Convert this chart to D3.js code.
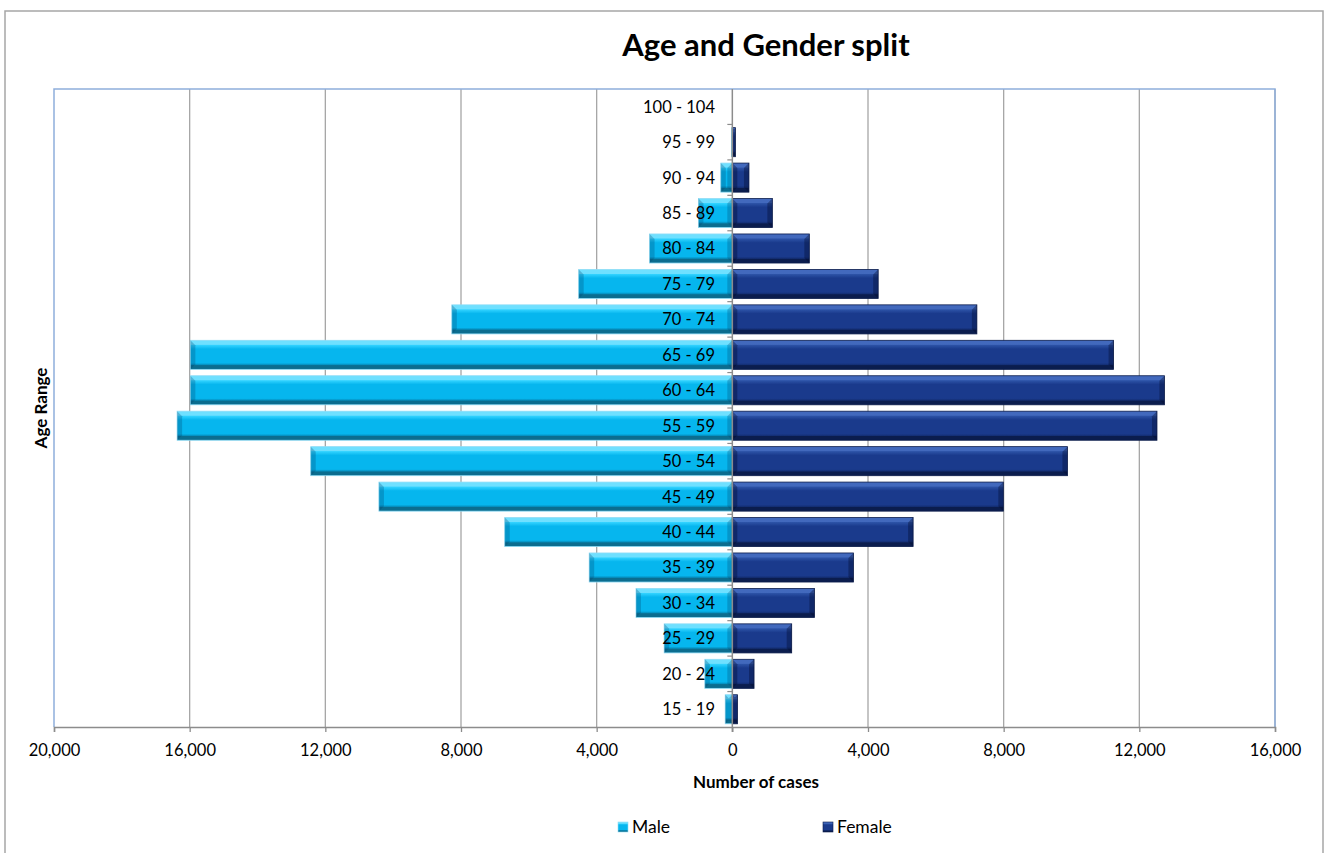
<!DOCTYPE html>
<html>
<head>
<meta charset="utf-8">
<title>Age and Gender split</title>
<script src="https://cdn.jsdelivr.net/npm/d3@7"></script>
<style>
  html, body { margin: 0; padding: 0; background: #ffffff; }
  svg { display: block; font-family: Lato, "Liberation Sans", sans-serif; }
</style>
</head>
<body>
<svg id="chart" width="1324" height="853"></svg>
<script>
// Age bands, bottom to top
const ageGroups = ["15 - 19", "20 - 24", "25 - 29", "30 - 34", "35 - 39", "40 - 44",
  "45 - 49", "50 - 54", "55 - 59", "60 - 64", "65 - 69", "70 - 74", "75 - 79",
  "80 - 84", "85 - 89", "90 - 94", "95 - 99", "100 - 104"];

// Number of cases per age band
const maleCases = [210, 810, 2010, 2840, 4220, 6710, 10420, 12430, 16370, 15980,
  15980, 8270, 4530, 2440, 1000, 340, 20, 0];
const femaleCases = [150, 640, 1750, 2420, 3570, 5330, 7990, 9880, 12520, 12740,
  11240, 7210, 4300, 2270, 1180, 490, 90, 0];

const xTicks = [-20000, -16000, -12000, -8000, -4000, 0, 4000, 8000, 12000, 16000];
const seriesNames = ["Male", "Female"];

const svg = d3.select("#chart");
const plot = { left: 54, right: 1275, top: 89, bottom: 727 };

const x = d3.scaleLinear().domain([-20000, 16000]).range([plot.left, plot.right]);
const y = d3.scaleBand()
  .domain(ageGroups.slice().reverse())
  .range([plot.top, plot.bottom])
  .paddingInner(0.18)
  .paddingOuter(0.09);

// Colour sets for the bevelled bars
const palette = {
  Male:   { top: "#6fe0ff", hi: "#30d2ff", body: "#06b6ee", low: "#0590c0", bottom: "#0b6d8f", end: "rgba(0,70,110,0.28)", stroke: "#8fdcf6" },
  Female: { top: "#4269bd", hi: "#2c52a6", body: "#1a3a8c", low: "#142f75", bottom: "#0b1d4e", end: "rgba(0,10,40,0.35)", stroke: "#0c1d4c" }
};

const defs = svg.append("defs");
seriesNames.forEach(name => {
  const c = palette[name];
  const g = defs.append("linearGradient")
    .attr("id", "grad-" + name)
    .attr("x1", 0).attr("y1", 0).attr("x2", 0).attr("y2", 1);
  [[0, c.top], [0.14, c.top], [0.17, c.hi], [0.3, c.body], [0.78, c.body],
   [0.84, c.low], [0.87, c.bottom], [1, c.bottom]].forEach(([o, col]) => {
    g.append("stop").attr("offset", o).attr("stop-color", col);
  });
});

// Outer chart frame
svg.append("rect")
  .attr("x", 5).attr("y", 11).attr("width", 1318).attr("height", 860)
  .attr("fill", "none").attr("stroke", "#a6a6a6").attr("stroke-width", 1.5);

// Title
svg.append("text")
  .attr("x", 766).attr("y", 56)
  .attr("text-anchor", "middle")
  .attr("font-size", 31).attr("font-weight", "bold").attr("fill", "#000")
  .text("Age and Gender split");

// Vertical gridlines
svg.append("g")
  .selectAll("line")
  .data(xTicks.filter(t => t !== -20000 && t !== 0))
  .join("line")
  .attr("x1", d => x(d)).attr("x2", d => x(d))
  .attr("y1", plot.top).attr("y2", plot.bottom)
  .attr("stroke", "#a6a6a6").attr("stroke-width", 1.3);

// Plot area border (left, top, right)
svg.append("path")
  .attr("d", `M${plot.left},${plot.bottom}V${plot.top}H${plot.right}V${plot.bottom}`)
  .attr("fill", "none").attr("stroke", "#8eaedb").attr("stroke-width", 1.5);

// Bevelled bar drawing
function bevelBar(g, x0, x1, yTop, h, name) {
  const c = palette[name];
  const w = x1 - x0;
  if (w <= 0) return;
  g.append("rect")
    .attr("x", x0).attr("y", yTop).attr("width", w).attr("height", h)
    .attr("fill", `url(#grad-${name})`)
    .attr("stroke", c.stroke).attr("stroke-width", 0.8);
  const b = Math.min(5, w / 2, h / 2);
  // end caps with diagonal corners
  g.append("polygon")
    .attr("points", [[x0, yTop], [x0 + b, yTop + b], [x0 + b, yTop + h - b], [x0, yTop + h]].join(" "))
    .attr("fill", c.end);
  g.append("polygon")
    .attr("points", [[x1, yTop], [x1 - b, yTop + b], [x1 - b, yTop + h - b], [x1, yTop + h]].join(" "))
    .attr("fill", c.end);
}

const barsLayer = svg.append("g");
ageGroups.forEach((age, i) => {
  const yTop = y(age), h = y.bandwidth();
  bevelBar(barsLayer, x(-maleCases[i]), x(0), yTop, h, "Male");
  bevelBar(barsLayer, x(0), x(femaleCases[i]), yTop, h, "Female");
});

// Category axis at zero with small ticks between bands
const step = y.step();
const boundaries = d3.range(ageGroups.length + 1).map(k => plot.top + k * step);
svg.append("line")
  .attr("x1", x(0)).attr("x2", x(0)).attr("y1", plot.top).attr("y2", plot.bottom + 5)
  .attr("stroke", "#8c8c8c").attr("stroke-width", 1.5);
svg.append("g")
  .selectAll("line")
  .data(boundaries.slice(1, -1))
  .join("line")
  .attr("x1", x(0) - 5).attr("x2", x(0))
  .attr("y1", d => d).attr("y2", d => d)
  .attr("stroke", "#8c8c8c").attr("stroke-width", 1.2);

// Category labels
svg.append("g")
  .selectAll("text")
  .data(ageGroups)
  .join("text")
  .attr("x", 715)
  .attr("y", d => y(d) + y.bandwidth() / 2)
  .attr("dy", "0.36em")
  .attr("text-anchor", "end")
  .attr("font-size", 16.5).attr("fill", "#000")
  .text(d => d);

// Value axis along the bottom
const xAxis = d3.axisBottom(x)
  .tickValues(xTicks)
  .tickSize(5)
  .tickPadding(12)
  .tickFormat(d => d3.format(",")(Math.abs(d)));
const xg = svg.append("g")
  .attr("transform", `translate(0,${plot.bottom})`)
  .call(xAxis);
xg.select(".domain").attr("stroke", "#8c8c8c").attr("stroke-width", 1.5);
xg.selectAll(".tick line").attr("stroke", "#8c8c8c").attr("stroke-width", 1.3);
xg.selectAll(".tick text")
  .attr("font-family", "Lato, 'Liberation Sans', sans-serif")
  .attr("font-size", 16.5).attr("fill", "#000");

// Axis titles
svg.append("text")
  .attr("x", 756).attr("y", 788)
  .attr("text-anchor", "middle")
  .attr("font-size", 17).attr("font-weight", "bold").attr("fill", "#000")
  .text("Number of cases");

svg.append("text")
  .attr("transform", "translate(47,408) rotate(-90)")
  .attr("text-anchor", "middle")
  .attr("font-size", 17).attr("font-weight", "bold").attr("fill", "#000")
  .text("Age Range");

// Legend
const legendItems = [
  { name: "Male", sx: 618, tx: 632 },
  { name: "Female", sx: 823, tx: 837 }
];
const legend = svg.append("g");
legendItems.forEach(item => {
  legend.append("rect")
    .attr("x", item.sx).attr("y", 822).attr("width", 10).attr("height", 10)
    .attr("fill", `url(#grad-${item.name})`)
    .attr("stroke", palette[item.name].stroke).attr("stroke-width", 0.6);
  legend.append("text")
    .attr("x", item.tx).attr("y", 827)
    .attr("dy", "0.36em")
    .attr("font-size", 17.5).attr("fill", "#000")
    .text(item.name);
});
</script>
</body>
</html>
